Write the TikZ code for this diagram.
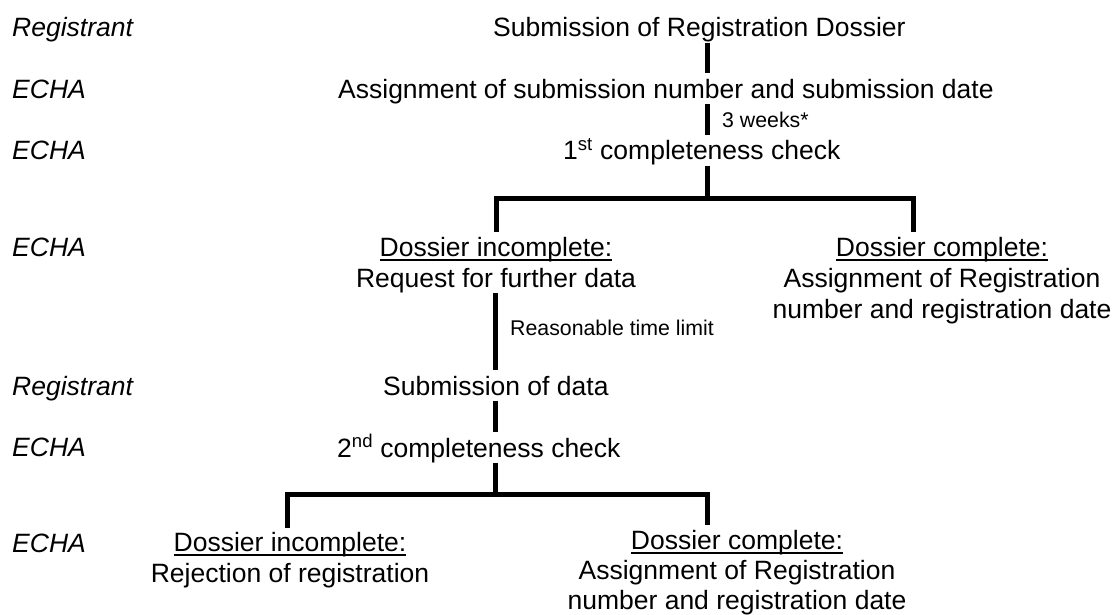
\documentclass[tikz,border=0pt]{standalone}
\usepackage{fontspec}
\setmainfont{Liberation Sans}
\usepackage{xcolor}
\usepackage{tikz}
\definecolor{ink}{HTML}{000000}
\newcommand{\mainsz}{\fontsize{26.5}{31}\selectfont}
\newcommand{\smallsz}{\fontsize{21.3}{25}\selectfont}
\newcommand{\ulin}[1]{\setbox0=\hbox{#1}\rule{0pt}{24pt}\rlap{\rule[-4.6pt]{\wd0}{1.9pt}}\box0}
\tikzset{
  link/.style={draw=ink, line width=5pt, line join=miter},
  lab/.style={text=ink, font=\mainsz, inner sep=0pt, text height=25pt, text depth=5.5pt, anchor=base west},
  who/.style={lab, font=\mainsz\itshape},
  labs/.style={text=ink, font=\smallsz, inner sep=0pt, anchor=base west},
  blk/.style={text=ink, font=\mainsz, inner sep=0pt, align=center, anchor=north},
}

\begin{document}
\begin{tikzpicture}[x=1pt, y=-1pt]
  \useasboundingbox (0,0) rectangle (1112,615);
  \coordinate (colA) at (707,0);
  \coordinate (colB) at (495,0);
  \coordinate (dropR) at (913,0);
  \coordinate (dropL) at (287,0);
  \coordinate (barOne) at (707,198.5);
  \coordinate (barTwo) at (495,494);

  \node[who] (who1) at (12,37) {Registrant};
  \node[who] (who2) at (12,99) {ECHA};
  \node[who] (who3) at (12,160) {ECHA};
  \node[who] (who4) at (12,256) {ECHA};
  \node[who] (who5) at (12,395) {Registrant};
  \node[who] (who6) at (12,456) {ECHA};
  \node[who] (who7) at (12,552) {ECHA};

  \node[lab] (titleSub) at (493,37) {Submission of Registration Dossier};
  \node[lab] (assignSub) at (338,98.5) {Assignment of submission number and submission date};
  \node[labs] (wait3) at (722,128) {3 weeks*};
  \node[lab] (chkOne) at (563,160) {1\textsuperscript{st} completeness check};
  \node[blk] (incOne) at (496,232) {\ulin{Dossier incomplete:}\\Request for further data};
  \node[blk] (compOne) at (942,232) {\ulin{Dossier complete:}\\Assignment of Registration\\number and registration date};
  \node[labs] (timeLim) at (510,335) {Reasonable time limit};
  \node[lab] (subData) at (383,395) {Submission of data};
  \node[lab] (chkTwo) at (337,457) {2\textsuperscript{nd} completeness check};
  \node[blk] (incTwo) at (290,527.5) {\ulin{Dossier incomplete:}\\Rejection of registration};
  \node[blk] (compTwo) at (737,525) {\ulin{Dossier complete:}\\[-1pt]Assignment of Registration\\[-1pt]number and registration date};

  \draw[link] (titleSub.south -| colA) -- (assignSub.north -| colA);
  \draw[link] (assignSub.south -| colA) -- (chkOne.north -| colA);
  \draw[link] (chkOne.south -| colA) -- (barOne);
  \draw[link] (incOne.north) |- (barOne) -| (compOne.north -| dropR);
  \draw[link] (incOne.south -| colB) -- (subData.north -| colB);
  \draw[link] (subData.south -| colB) -- (chkTwo.north -| colB);
  \draw[link] (chkTwo.south -| colB) -- (barTwo);
  \draw[link] (incTwo.north -| dropL) |- (barTwo) -| (compTwo.north -| colA);
\end{tikzpicture}
\end{document}
